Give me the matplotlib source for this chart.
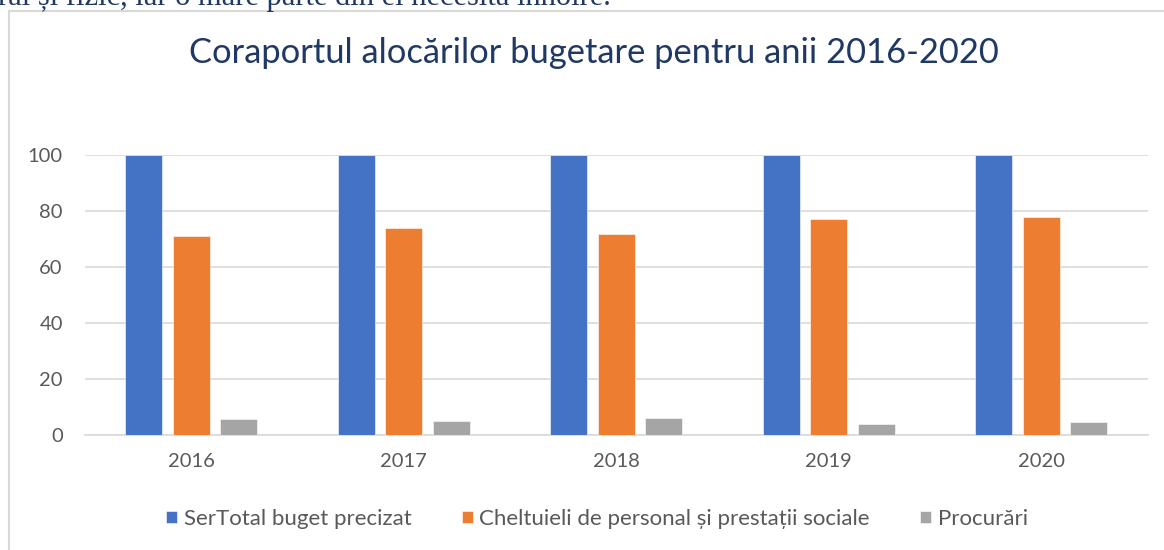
import matplotlib
matplotlib.use("Agg")
import matplotlib.pyplot as plt
from matplotlib.lines import Line2D
import numpy as np

years = ["2016", "2017", "2018", "2019", "2020"]
total_buget = [100, 100, 100, 100, 100]
cheltuieli_personal = [71.0, 73.8, 71.7, 77.0, 77.7]
procurari = [5.8, 5.0, 6.1, 3.8, 4.5]

series_names = ["SerTotal buget precizat",
                "Cheltuieli de personal și prestații sociale",
                "Procurări"]
colors = ["#4472C4", "#ED7D31", "#A5A5A5"]

W, H = 1164, 550
fig = plt.figure(figsize=(W / 100, H / 100), dpi=100)
plt.rcParams['font.family'] = ['Lato', 'DejaVu Sans']

# bit of the document text above the chart (cut off at the top)
fig.text(-2 / W, 1 - 5 / H, "ral și fizic, iar o mare parte din el necesită înnoire.",
         fontsize=22, family=['Liberation Serif', 'DejaVu Serif'], color="#1F3864",
         va="baseline", ha="left")

# chart frame
fig.add_artist(Line2D([9 / W, 9 / W], [0, 1 - 11 / H], color="#D9D9D9", lw=1.5))
fig.add_artist(Line2D([9 / W, 1], [1 - 11 / H, 1 - 11 / H], color="#D9D9D9", lw=1.5))

ax = fig.add_axes([85 / W, 1 - 435 / H, (1147.5 - 85) / W, (435 - 155) / H])

x = np.arange(len(years))
step = 0.2235
bw = 0.174
for i, (vals, name, c) in enumerate(zip([total_buget, cheltuieli_personal, procurari],
                                        series_names, colors)):
    ax.bar(x + (i - 1) * step, vals, bw, color=c, label=name,
           edgecolor="white", linewidth=0.4, zorder=3)

ax.set_xlim(-0.5, len(years) - 0.5)
ax.set_ylim(0, 100)
ax.set_yticks([0, 20, 40, 60, 80, 100])
ax.set_xticks(x)
ax.set_xticklabels(years)
ax.yaxis.grid(True, color="#D9D9D9", lw=1.2, zorder=0)
for s in ["top", "right", "left"]:
    ax.spines[s].set_visible(False)
ax.spines["bottom"].set_color("#D9D9D9")
ax.spines["bottom"].set_linewidth(1.2)
ax.tick_params(axis="both", length=0, labelsize=14.5, labelcolor="#595959")
ax.tick_params(axis="y", pad=16)
ax.tick_params(axis="x", pad=13)

fig.text(594 / W, 1 - 53 / H, "Coraportul alocărilor bugetare pentru anii 2016-2020",
         fontsize=24.8, color="#1F3864", ha="center", va="center")

fig.legend(loc="center", bbox_to_anchor=(597 / W, 1 - 519 / H), ncol=3,
           frameon=False, fontsize=16, labelcolor="#595959",
           handlelength=0.5, handleheight=0.5, handletextpad=0.3,
           columnspacing=2.25)

fig.savefig("out.png", dpi=100)
